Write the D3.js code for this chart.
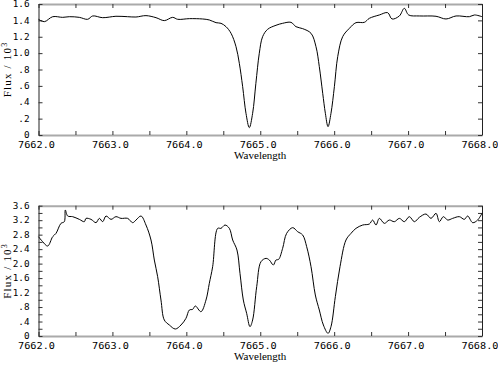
<!DOCTYPE html>
<html>
<head>
<meta charset="utf-8">
<script src="https://cdn.jsdelivr.net/npm/d3@7"></script>
<style>
  body { margin: 0; background: #fff; }
  svg { display: block; }
  .tick text { font-family: "DejaVu Sans Mono", monospace; font-size: 8.5px; fill: #000; }
  .title { font-family: "Liberation Serif", serif; font-size: 11px; fill: #000; }
</style>
</head>
<body>
<div id="chart"></div>
<script>
// top spectrum (flux in units of 10^3)
const topWave = [7662.000, 7662.079, 7662.192, 7662.327, 7662.417, 7662.552, 7662.665, 7662.733, 7662.868,
  7663.048, 7663.206, 7663.318, 7663.454, 7663.590, 7663.702, 7663.815, 7663.883, 7664.041, 7664.221,
  7664.311, 7664.402, 7664.469, 7664.537, 7664.605, 7664.672, 7664.717, 7664.762, 7664.807, 7664.852,
  7664.897, 7664.941, 7664.987, 7665.032, 7665.100, 7665.213, 7665.303, 7665.416, 7665.483, 7665.574,
  7665.687, 7665.754, 7665.799, 7665.845, 7665.881, 7665.917, 7665.957, 7666.003, 7666.048, 7666.115,
  7666.206, 7666.295, 7666.408, 7666.476, 7666.611, 7666.724, 7666.782, 7666.882, 7666.949, 7667.008,
  7667.152, 7667.378, 7667.513, 7667.649, 7667.829, 7667.898, 7668.000];
const topFlux = [1.413, 1.384, 1.445, 1.437, 1.445, 1.437, 1.413, 1.454, 1.433,
  1.450, 1.445, 1.441, 1.458, 1.433, 1.397, 1.437, 1.413, 1.421, 1.417,
  1.405, 1.372, 1.364, 1.323, 1.242, 1.079, 0.875, 0.590, 0.265, 0.090,
  0.265, 0.631, 0.998, 1.201, 1.291, 1.340, 1.364, 1.376, 1.323, 1.299,
  1.242, 1.079, 0.835, 0.509, 0.265, 0.102, 0.265, 0.590, 0.957, 1.201,
  1.303, 1.372, 1.376, 1.425, 1.466, 1.494, 1.417, 1.454, 1.547, 1.466,
  1.454, 1.450, 1.417, 1.454, 1.445, 1.466, 1.445];

// bottom spectrum
const botWave = [7662.000, 7662.056, 7662.124, 7662.192, 7662.237, 7662.304, 7662.349, 7662.363, 7662.395,
  7662.462, 7662.552, 7662.620, 7662.643, 7662.710, 7662.778, 7662.823, 7662.868, 7662.913, 7662.981,
  7663.048, 7663.116, 7663.206, 7663.274, 7663.319, 7663.387, 7663.454, 7663.522, 7663.567, 7663.612,
  7663.657, 7663.702, 7663.770, 7663.851, 7663.928, 7663.995, 7664.041, 7664.086, 7664.122, 7664.198,
  7664.266, 7664.311, 7664.356, 7664.424, 7664.469, 7664.523, 7664.582, 7664.627, 7664.685, 7664.726,
  7664.771, 7664.816, 7664.861, 7664.897, 7664.952, 7665.010, 7665.078, 7665.123, 7665.177, 7665.213,
  7665.249, 7665.303, 7665.357, 7665.439, 7665.506, 7665.574, 7665.628, 7665.687, 7665.745, 7665.799,
  7665.854, 7665.917, 7665.957, 7666.016, 7666.079, 7666.160, 7666.228, 7666.295, 7666.386, 7666.476,
  7666.521, 7666.566, 7666.611, 7666.679, 7666.746, 7666.814, 7666.882, 7666.949, 7667.017, 7667.085,
  7667.152, 7667.242, 7667.310, 7667.378, 7667.423, 7667.477, 7667.536, 7667.603, 7667.693, 7667.761,
  7667.806, 7667.874, 7667.941, 7668.000];
const botFlux = [2.744, 2.606, 2.486, 2.744, 2.836, 3.112, 3.158, 3.481, 3.315,
  3.297, 3.223, 3.158, 3.250, 3.223, 3.131, 3.250, 3.158, 3.315, 3.223,
  3.297, 3.250, 3.250, 3.131, 3.204, 3.315, 3.066, 2.652, 2.099, 1.639,
  0.994, 0.442, 0.304, 0.193, 0.304, 0.488, 0.718, 0.737, 0.829, 0.672,
  0.994, 1.455, 1.915, 2.974, 2.974, 3.066, 2.974, 2.652, 2.376, 1.731,
  0.994, 0.626, 0.258, 0.442, 1.363, 2.053, 2.145, 2.099, 1.961, 2.099,
  2.118, 2.422, 2.836, 2.993, 2.882, 2.790, 2.468, 1.915, 1.133, 0.718,
  0.304, 0.074, 0.258, 1.087, 1.915, 2.652, 2.836, 2.974, 3.066, 3.094,
  3.204, 3.066, 3.250, 3.112, 3.204, 3.158, 3.250, 3.158, 3.297, 3.158,
  3.278, 3.370, 3.250, 3.389, 3.158, 3.297, 3.204, 3.250, 3.297, 3.223,
  3.315, 3.131, 3.204, 3.389];

// tick values
const xTicks = d3.range(7662, 7668.01, 0.5);
const xLabelTicks = [7662, 7663, 7664, 7665, 7666, 7667, 7668];
const topYTicks = d3.range(0, 1.61, 0.2);
const topYLabels = [0, 0.2, 0.4, 0.6, 0.8, 1.0, 1.2, 1.4, 1.6];
const botYTicks = d3.range(0, 3.61, 0.2);
const botYLabels = [0, 0.4, 0.8, 1.2, 1.6, 2.0, 2.4, 2.8, 3.2, 3.6];

const width = 498, height = 365;
const xStretch = 1.2; // tick font is wide and short in the original
const yStretch = 1.1;
const svg = d3.select('#chart').append('svg')
  .attr('width', width)
  .attr('height', height);

const fmtY = v => v < 1e-9 ? '0' : d3.format('.1f')(v).replace(/^0\./, '.');
const has = (arr, v) => arr.some(a => Math.abs(a - v) < 1e-6);

function drawPanel(cfg) {
  const x = d3.scaleLinear().domain([7662, 7668]).range([38.5, 482]);
  const y = d3.scaleLinear().domain([0, cfg.yMax]).range([cfg.bottom, cfg.top]);
  const g = svg.append('g');

  // bottom axis
  g.append('g')
    .attr('transform', `translate(0,${cfg.bottom})`)
    .call(d3.axisBottom(x).tickValues(xTicks).tickSizeInner(-4).tickSizeOuter(0).tickPadding(7)
      .tickFormat(d => has(xLabelTicks, d) ? d.toFixed(1) : ''))
    .call(a => a.select('.domain').attr('stroke', '#aaa').attr('stroke-width', 2))
    .call(a => a.selectAll('.tick text').attr('x', -2.5 / xStretch).attr('transform', `scale(${xStretch},1)`));

  // top axis
  g.append('g')
    .attr('transform', `translate(0,${cfg.top})`)
    .call(d3.axisTop(x).tickValues(xTicks).tickSizeInner(-4).tickSizeOuter(0).tickFormat(''))
    .call(a => a.select('.domain').attr('stroke', '#aaa').attr('stroke-width', 2));

  // left axis
  g.append('g')
    .attr('transform', 'translate(38.5,0)')
    .call(d3.axisLeft(y).tickValues(cfg.yTicks).tickSizeInner(-4).tickSizeOuter(0).tickPadding(8)
      .tickFormat(d => has(cfg.yLabels, d) ? fmtY(d) : ''))
    .call(a => a.select('.domain').attr('stroke', '#222'))
    .call(a => a.selectAll('.tick text').attr('x', -9 / yStretch).attr('transform', `scale(${yStretch},1)`));

  // right axis
  g.append('g')
    .attr('transform', 'translate(482,0)')
    .call(d3.axisRight(y).tickValues(cfg.yTicks).tickSizeInner(-4).tickSizeOuter(0).tickFormat(''))
    .call(a => a.select('.domain').attr('stroke', '#222'));

  g.selectAll('.tick line').attr('stroke', '#333');

  // spectrum line
  const pts = cfg.wave.map((w, i) => [w, cfg.flux[i]]);
  g.append('path')
    .datum(pts)
    .attr('fill', 'none')
    .attr('stroke', '#000')
    .attr('stroke-width', 1)
    .attr('d', d3.line().x(d => x(d[0])).y(d => y(d[1])).curve(d3.curveCatmullRom.alpha(0.5)));

  // titles
  g.append('text')
    .attr('class', 'title')
    .attr('x', (38.5 + 482) / 2)
    .attr('y', cfg.bottom + 24)
    .attr('text-anchor', 'middle')
    .text('Wavelength');

  const ly = (cfg.top + cfg.bottom) / 2;
  const lab = g.append('text')
    .attr('class', 'title')
    .attr('text-anchor', 'middle')
    .attr('letter-spacing', '1.2px')
    .attr('transform', `translate(10.5,${ly}) rotate(-90)`);
  lab.append('tspan').text('Flux / 10');
  lab.append('tspan').attr('dy', -4).attr('font-size', '8px').text('3');
}

drawPanel({ wave: topWave, flux: topFlux, yMax: 1.6, top: 4, bottom: 135,
  yTicks: topYTicks, yLabels: topYLabels });
drawPanel({ wave: botWave, flux: botFlux, yMax: 3.6, top: 205.7, bottom: 336,
  yTicks: botYTicks, yLabels: botYLabels });
</script>
</body>
</html>
